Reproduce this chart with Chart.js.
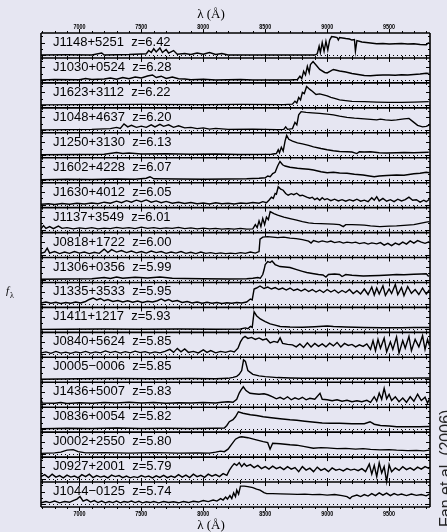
<!DOCTYPE html>
<html><head><meta charset="utf-8">
<style>html,body{margin:0;padding:0;background:#e6e6f2;}canvas{display:block;background:#e6e6f2;}</style>
<script src="https://cdn.jsdelivr.net/npm/chart.js@4.4.1/dist/chart.umd.min.js"></script>
</head><body>
<canvas id="c" width="447" height="532"></canvas>
<script>
const quasars = ["J1148+5251","J1030+0524","J1623+3112","J1048+4637","J1250+3130","J1602+4228","J1630+4012","J1137+3549","J0818+1722","J1306+0356","J1335+3533","J1411+1217","J0840+5624","J0005\u22120006","J1436+5007","J0836+0054","J0002+2550","J0927+2001","J1044\u22120125"];
const redshifts = ["6.42","6.28","6.22","6.20","6.13","6.07","6.05","6.01","6.00","5.99","5.95","5.93","5.85","5.85","5.83","5.82","5.80","5.79","5.74"];
const xTicks = [7000,7500,8000,8500,9000,9500];
const xMin = 6690, xMax = 9830;

// [wavelength (Å), relative flux in panel units]
const J1148 = [[6690,0],[6900,0.01],[7100,0],[7180,0.08],[7200,0],[7400,0.02],[7540,0.05],[7560,0.18],[7580,0.1],[7600,0.25],[7620,0.12],[7650,0.28],[7670,0.1],[7700,0.22],[7720,0.08],[7760,0.18],[7790,0.03],[7850,0.06],[7900,0.02],[7950,0.08],[8000,0.03],[8050,0.1],[8100,0.02],[8150,0.06],[8200,0],[8500,0],[8900,0],[8920,0.05],[8935,0.35],[8945,0.1],[8960,0.5],[8975,0.15],[8990,0.55],[9005,0.2],[9020,0.6],[9036,0.74],[9060,0.72],[9080,0.7],[9090,0.6],[9100,0.7],[9150,0.66],[9180,0.64],[9200,0.6],[9220,0.62],[9228,0.15],[9240,0.58],[9280,0.52],[9350,0.48],[9400,0.45],[9450,0.46],[9500,0.44],[9550,0.45],[9600,0.46],[9650,0.44],[9700,0.45],[9750,0.42],[9800,0.41],[9820,0.5]];
const J1030 = [[6690,0],[6800,0.02],[7000,0.01],[7050,0.06],[7100,0.02],[7200,0.04],[7250,0.08],[7300,0.03],[7350,0.1],[7400,0.05],[7450,0.12],[7500,0.08],[7550,0.16],[7590,0.2],[7620,0.1],[7660,0.15],[7700,0.06],[7750,0.12],[7800,0.05],[7850,0.04],[7900,0.01],[8000,0.03],[8100,0],[8300,0.02],[8400,0],[8700,0],[8760,0.02],[8780,0.15],[8795,0.05],[8810,0.35],[8825,0.2],[8840,0.55],[8855,0.3],[8865,0.62],[8886,0.74],[8910,0.6],[8940,0.42],[8980,0.3],[9000,0.28],[9050,0.42],[9100,0.36],[9150,0.32],[9200,0.26],[9250,0.22],[9300,0.18],[9350,0.17],[9400,0.19],[9450,0.2],[9500,0.2],[9550,0.19],[9600,0.21],[9650,0.2],[9700,0.22],[9750,0.24],[9800,0.27],[9820,0.26]];
const J1623 = [[6690,0],[7000,0.01],[7500,0.02],[8000,0.01],[8300,0.02],[8650,0.01],[8720,0.03],[8740,0.15],[8755,0.08],[8770,0.3],[8785,0.2],[8800,0.5],[8815,0.45],[8834,0.74],[8860,0.62],[8880,0.55],[8910,0.42],[8940,0.44],[8970,0.4],[9000,0.36],[9030,0.3],[9060,0.26],[9100,0.2],[9150,0.17],[9200,0.14],[9300,0.13],[9400,0.11],[9500,0.1],[9600,0.1],[9700,0.11],[9820,0.13]];
const J1048 = [[6690,0],[6900,0.01],[7100,0.02],[7250,0.05],[7300,0.1],[7330,0.06],[7360,0.24],[7390,0.12],[7420,0.18],[7460,0.1],[7500,0.15],[7540,0.1],[7580,0.2],[7610,0.12],[7650,0.22],[7680,0.14],[7720,0.2],[7760,0.1],[7800,0.16],[7850,0.08],[7900,0.1],[7950,0.05],[8000,0.08],[8050,0.03],[8100,0.06],[8200,0.02],[8400,0.03],[8600,0.01],[8650,0.02],[8665,0.12],[8680,0.02],[8720,0.05],[8740,0.3],[8755,0.2],[8770,0.6],[8790,0.73],[8830,0.7],[8880,0.68],[8940,0.66],[9000,0.63],[9050,0.6],[9100,0.55],[9160,0.5],[9220,0.47],[9300,0.44],[9350,0.42],[9400,0.4],[9430,0.43],[9470,0.4],[9520,0.38],[9560,0.4],[9620,0.44],[9660,0.46],[9700,0.3],[9730,0.18],[9770,0.12],[9800,0.14],[9825,0.2]];
const J1250 = [[6690,0],[7000,0.01],[7200,0.02],[7260,0.06],[7300,0.09],[7350,0.05],[7400,0.07],[7500,0.03],[7700,0.04],[7900,0.02],[8100,0.03],[8300,0.01],[8550,0.02],[8590,0.05],[8605,0.2],[8615,0.08],[8630,0.3],[8645,0.15],[8660,0.55],[8673,0.78],[8690,0.62],[8720,0.55],[8760,0.48],[8800,0.44],[8850,0.38],[8890,0.32],[8950,0.25],[9000,0.2],[9050,0.16],[9100,0.13],[9160,0.12],[9200,0.11],[9240,0.05],[9260,0.12],[9300,0.11],[9350,0.12],[9420,0.08],[9480,0.07],[9560,0.08],[9620,0.09],[9700,0.08],[9760,0.09],[9820,0.1]];
const J1602 = [[6690,0],[6900,0.02],[7100,0.01],[7300,0.03],[7450,0.02],[7540,0.06],[7570,0.12],[7600,0.04],[7800,0.03],[8000,0.02],[8200,0.03],[8350,0.04],[8450,0.06],[8500,0.08],[8520,0.15],[8540,0.12],[8560,0.25],[8580,0.3],[8600,0.55],[8619,0.73],[8640,0.6],[8660,0.55],[8700,0.5],[8760,0.46],[8800,0.44],[8850,0.42],[8890,0.39],[8950,0.32],[9000,0.28],[9050,0.3],[9100,0.27],[9160,0.26],[9220,0.22],[9290,0.19],[9340,0.15],[9380,0.12],[9420,0.15],[9480,0.17],[9560,0.19],[9620,0.18],[9700,0.24],[9750,0.26],[9800,0.3],[9825,0.28]];
const J1630 = [[6690,0.02],[6750,0.04],[6800,0.01],[6860,0.05],[6920,0.02],[6980,0.06],[7040,0.03],[7100,0.07],[7150,0.04],[7200,0.1],[7250,0.06],[7300,0.14],[7340,0.08],[7380,0.16],[7420,0.1],[7460,0.18],[7500,0.12],[7540,0.19],[7580,0.1],[7620,0.15],[7660,0.08],[7700,0.13],[7750,0.06],[7800,0.1],[7850,0.05],[7900,0.09],[7950,0.04],[8000,0.07],[8050,0.03],[8100,0.08],[8150,0.04],[8200,0.06],[8250,0.03],[8300,0.07],[8350,0.05],[8400,0.09],[8450,0.06],[8480,0.12],[8510,0.08],[8530,0.18],[8550,0.3],[8565,0.25],[8580,0.45],[8590,0.42],[8605,0.72],[8625,0.62],[8645,0.58],[8665,0.45],[8685,0.38],[8710,0.44],[8730,0.4],[8754,0.46],[8780,0.36],[8800,0.38],[8835,0.3],[8860,0.26],[8880,0.3],[8900,0.2],[8920,0.26],[8940,0.18],[8960,0.28],[8980,0.2],[9000,0.24],[9030,0.16],[9060,0.22],[9090,0.15],[9120,0.2],[9150,0.14],[9180,0.2],[9210,0.15],[9240,0.22],[9270,0.14],[9300,0.18],[9330,0.12],[9360,0.28],[9380,0.18],[9400,0.32],[9420,0.15],[9450,0.25],[9480,0.14],[9510,0.2],[9540,0.12],[9570,0.22],[9600,0.15],[9630,0.2],[9660,0.3],[9690,0.18],[9720,0.2],[9750,0.1],[9780,0.18],[9800,0.12],[9825,0.22]];
const J1137 = [[6690,0.03],[6710,0.16],[6730,0.05],[6760,0.12],[6790,0.04],[6830,0.14],[6860,0.05],[6900,0.08],[6950,0.03],[7000,0.07],[7050,0.04],[7100,0.08],[7150,0.03],[7200,0.06],[7250,0.04],[7300,0.09],[7350,0.05],[7400,0.08],[7450,0.04],[7500,0.1],[7550,0.05],[7600,0.08],[7650,0.04],[7700,0.07],[7750,0.05],[7800,0.09],[7850,0.04],[7900,0.07],[7950,0.03],[8000,0.06],[8050,0.03],[8100,0.05],[8150,0.02],[8200,0.04],[8250,0.02],[8300,0.05],[8350,0.02],[8400,0.03],[8420,0.2],[8435,0.08],[8450,0.35],[8465,0.12],[8480,0.45],[8495,0.2],[8510,0.5],[8525,0.4],[8540,0.72],[8570,0.64],[8600,0.58],[8650,0.5],[8700,0.44],[8754,0.38],[8800,0.32],[8850,0.27],[8890,0.25],[8950,0.24],[9000,0.23],[9050,0.22],[9100,0.2],[9130,0.12],[9150,0.2],[9200,0.2],[9260,0.19],[9300,0.18],[9350,0.15],[9426,0.12],[9500,0.14],[9560,0.15],[9620,0.17],[9700,0.2],[9760,0.26],[9800,0.3],[9825,0.32]];
const J0818 = [[6690,0.05],[6720,0.1],[6740,0.26],[6760,0.06],[6800,0.12],[6840,0.04],[6880,0.1],[6920,0.05],[6960,0.12],[7000,0.06],[7040,0.1],[7080,0.04],[7120,0.09],[7160,0.05],[7200,0.22],[7230,0.08],[7260,0.2],[7300,0.1],[7340,0.16],[7380,0.08],[7420,0.14],[7460,0.07],[7500,0.12],[7540,0.06],[7580,0.14],[7620,0.08],[7660,0.12],[7700,0.05],[7740,0.1],[7780,0.06],[7820,0.12],[7860,0.05],[7900,0.09],[7940,0.04],[7980,0.1],[8020,0.05],[8060,0.08],[8100,0.04],[8140,0.07],[8180,0.04],[8220,0.06],[8260,0.04],[8300,0.08],[8340,0.05],[8380,0.1],[8420,0.06],[8450,0.12],[8458,0.62],[8480,0.7],[8520,0.72],[8560,0.7],[8600,0.68],[8650,0.7],[8700,0.66],[8750,0.64],[8800,0.6],[8850,0.54],[8870,0.46],[8890,0.56],[8930,0.5],[8960,0.55],[9000,0.5],[9030,0.54],[9060,0.48],[9100,0.52],[9130,0.46],[9160,0.5],[9200,0.47],[9230,0.5],[9260,0.44],[9300,0.48],[9330,0.42],[9360,0.47],[9400,0.43],[9430,0.48],[9460,0.38],[9490,0.45],[9520,0.36],[9550,0.46],[9580,0.4],[9610,0.5],[9640,0.42],[9670,0.55],[9700,0.46],[9730,0.56],[9760,0.5],[9790,0.45],[9825,0.52]];
const J1306 = [[6690,0.01],[6900,0.02],[7100,0.03],[7200,0.08],[7250,0.04],[7300,0.1],[7350,0.05],[7450,0.09],[7550,0.06],[7650,0.1],[7750,0.05],[7850,0.04],[8000,0.03],[8200,0.02],[8350,0.03],[8400,0.05],[8440,0.08],[8460,0.05],[8480,0.2],[8490,0.38],[8500,0.6],[8520,0.72],[8540,0.68],[8555,0.74],[8580,0.6],[8619,0.52],[8660,0.5],[8700,0.48],[8754,0.4],[8800,0.33],[8835,0.28],[8880,0.24],[8930,0.2],[8966,0.18],[8990,0.1],[9010,0.2],[9060,0.22],[9100,0.2],[9120,0.12],[9150,0.2],[9200,0.17],[9292,0.14],[9350,0.15],[9420,0.16],[9500,0.18],[9560,0.2],[9620,0.19],[9700,0.21],[9760,0.22],[9800,0.23],[9820,0.12]];
const J1335 = [[6690,0.06],[6730,0.1],[6770,0.05],[6810,0.09],[6850,0.04],[6890,0.08],[6930,0.05],[6970,0.1],[7010,0.06],[7050,0.12],[7080,0.2],[7110,0.26],[7140,0.18],[7170,0.24],[7200,0.15],[7230,0.2],[7270,0.12],[7310,0.16],[7350,0.1],[7390,0.15],[7430,0.09],[7470,0.14],[7510,0.08],[7550,0.13],[7590,0.1],[7630,0.15],[7660,0.22],[7690,0.14],[7720,0.2],[7750,0.12],[7790,0.16],[7830,0.08],[7870,0.12],[7910,0.06],[7950,0.1],[7990,0.05],[8030,0.09],[8070,0.05],[8110,0.08],[8150,0.04],[8190,0.07],[8230,0.05],[8270,0.08],[8310,0.06],[8350,0.1],[8380,0.22],[8395,0.18],[8410,0.62],[8430,0.66],[8458,0.74],[8490,0.64],[8520,0.7],[8550,0.62],[8580,0.68],[8610,0.6],[8640,0.66],[8670,0.58],[8700,0.66],[8730,0.56],[8760,0.62],[8790,0.54],[8820,0.62],[8850,0.52],[8880,0.6],[8910,0.5],[8940,0.58],[8970,0.48],[9000,0.6],[9030,0.5],[9060,0.58],[9090,0.46],[9120,0.56],[9150,0.48],[9180,0.6],[9210,0.44],[9240,0.55],[9270,0.42],[9300,0.62],[9330,0.4],[9360,0.7],[9380,0.38],[9400,0.66],[9420,0.42],[9450,0.75],[9470,0.36],[9500,0.62],[9520,0.44],[9550,0.8],[9570,0.4],[9600,0.68],[9620,0.35],[9650,0.72],[9680,0.45],[9710,0.6],[9740,0.4],[9770,0.66],[9800,0.42],[9825,0.58]];
const J1411 = [[6690,0],[6900,0.01],[7200,0.02],[7500,0.01],[7800,0.02],[8100,0.01],[8300,0.02],[8340,0.06],[8360,0.03],[8380,0.12],[8395,0.08],[8410,0.71],[8430,0.55],[8460,0.42],[8500,0.31],[8540,0.22],[8580,0.17],[8620,0.12],[8700,0.1],[8800,0.09],[8900,0.11],[9000,0.14],[9050,0.12],[9150,0.1],[9300,0.08],[9450,0.07],[9600,0.07],[9700,0.08],[9825,0.08]];
const J0840 = [[6690,0.06],[6730,0.1],[6770,0.04],[6810,0.12],[6850,0.05],[6890,0.09],[6930,0.04],[6970,0.1],[7010,0.06],[7050,0.12],[7090,0.05],[7130,0.1],[7170,0.06],[7210,0.14],[7250,0.07],[7290,0.12],[7330,0.05],[7370,0.11],[7410,0.06],[7450,0.13],[7490,0.07],[7530,0.11],[7570,0.05],[7610,0.1],[7650,0.06],[7690,0.12],[7730,0.2],[7760,0.08],[7790,0.24],[7820,0.1],[7850,0.22],[7880,0.08],[7920,0.12],[7960,0.06],[8000,0.18],[8030,0.08],[8060,0.15],[8100,0.06],[8140,0.12],[8180,0.08],[8220,0.14],[8250,0.1],[8280,0.25],[8300,0.5],[8320,0.66],[8337,0.72],[8360,0.64],[8390,0.68],[8420,0.6],[8450,0.66],[8480,0.58],[8510,0.62],[8540,0.46],[8570,0.52],[8600,0.48],[8620,0.66],[8640,0.44],[8680,0.4],[8720,0.38],[8750,0.3],[8780,0.42],[8810,0.28],[8840,0.46],[8870,0.3],[8900,0.44],[8930,0.32],[8960,0.42],[8990,0.3],[9020,0.45],[9050,0.34],[9080,0.48],[9110,0.3],[9140,0.44],[9170,0.36],[9200,0.4],[9230,0.3],[9260,0.38],[9290,0.32],[9320,0.42],[9350,0.2],[9370,0.55],[9390,0.15],[9410,0.6],[9430,0.25],[9460,0.65],[9480,0.1],[9510,0.5],[9530,0.2],[9560,0.7],[9580,0.05],[9610,0.55],[9630,0.25],[9660,0.72],[9680,0.15],[9710,0.6],[9740,0.3],[9770,0.75],[9790,0.2],[9810,0.6],[9825,0.35]];
const J0005 = [[6690,0],[7000,0.02],[7300,0.03],[7600,0.02],[7900,0.03],[8100,0.02],[8200,0.04],[8240,0.08],[8270,0.12],[8290,0.2],[8310,0.35],[8325,0.78],[8340,0.72],[8360,0.35],[8400,0.2],[8450,0.14],[8500,0.11],[8600,0.07],[8700,0.05],[8800,0.04],[9000,0.04],[9200,0.04],[9400,0.04],[9600,0.04],[9825,0.05]];
const J1436 = [[6690,0.2],[6700,0.05],[6800,0.04],[6850,0.07],[6900,0.03],[7000,0.06],[7100,0.04],[7200,0.07],[7300,0.05],[7400,0.08],[7500,0.05],[7600,0.07],[7700,0.04],[7800,0.06],[7900,0.05],[8000,0.07],[8100,0.05],[8150,0.08],[8200,0.1],[8240,0.08],[8270,0.2],[8290,0.45],[8305,0.58],[8323,0.7],[8345,0.55],[8377,0.44],[8410,0.42],[8450,0.4],[8490,0.42],[8520,0.38],[8560,0.3],[8590,0.22],[8620,0.28],[8650,0.2],[8680,0.3],[8710,0.18],[8740,0.26],[8770,0.2],[8800,0.28],[8830,0.18],[8860,0.24],[8900,0.2],[8942,0.44],[8960,0.2],[9000,0.18],[9040,0.14],[9080,0.18],[9120,0.12],[9160,0.16],[9200,0.1],[9240,0.14],[9280,0.1],[9320,0.16],[9350,0.08],[9380,0.3],[9400,0.12],[9420,0.45],[9440,0.2],[9460,0.64],[9480,0.22],[9500,0.4],[9520,0.15],[9550,0.3],[9580,0.1],[9610,0.25],[9640,0.08],[9670,0.3],[9700,0.12],[9730,0.4],[9760,0.15],[9790,0.28],[9810,0.05],[9825,0.2]];
const J0836 = [[6690,0.02],[6900,0.04],[7100,0.03],[7300,0.05],[7500,0.03],[7700,0.04],[7900,0.03],[8100,0.04],[8170,0.05],[8190,0.15],[8210,0.3],[8240,0.38],[8260,0.5],[8283,0.7],[8320,0.64],[8380,0.58],[8430,0.55],[8484,0.5],[8550,0.46],[8620,0.42],[8700,0.38],[8754,0.36],[8820,0.32],[8900,0.28],[8960,0.25],[9023,0.24],[9100,0.24],[9200,0.22],[9300,0.22],[9346,0.3],[9380,0.2],[9430,0.15],[9500,0.13],[9561,0.1],[9650,0.1],[9750,0.1],[9825,0.11]];
const J0002 = [[6690,0.03],[6800,0.05],[6850,0.08],[6900,0.16],[6950,0.18],[6990,0.1],[7050,0.05],[7200,0.06],[7400,0.04],[7600,0.06],[7800,0.04],[7950,0.05],[8050,0.04],[8100,0.08],[8140,0.12],[8170,0.1],[8200,0.2],[8230,0.4],[8260,0.6],[8290,0.68],[8310,0.7],[8360,0.66],[8420,0.58],[8484,0.5],[8520,0.46],[8539,0.2],[8560,0.44],[8620,0.42],[8700,0.38],[8754,0.36],[8820,0.3],[8888,0.24],[8950,0.26],[9000,0.25],[9080,0.22],[9150,0.23],[9230,0.2],[9290,0.22],[9350,0.19],[9426,0.17],[9500,0.18],[9560,0.16],[9650,0.14],[9720,0.15],[9780,0.13],[9825,0.16]];
const J0927 = [[6690,0.1],[6720,0.18],[6750,0.06],[6780,0.2],[6810,0.08],[6840,0.14],[6870,0.05],[6900,0.16],[6930,0.08],[6960,0.12],[6990,0.05],[7020,0.18],[7050,0.1],[7080,0.2],[7110,0.06],[7140,0.14],[7170,0.08],[7200,0.12],[7230,0.05],[7260,0.16],[7290,0.1],[7320,0.14],[7350,0.06],[7380,0.12],[7410,0.05],[7440,0.1],[7470,0.06],[7500,0.14],[7530,0.08],[7560,0.12],[7590,0.05],[7620,0.13],[7650,0.07],[7680,0.15],[7710,0.06],[7740,0.12],[7770,0.07],[7800,0.18],[7830,0.08],[7860,0.16],[7890,0.06],[7920,0.2],[7950,0.1],[7980,0.15],[8010,0.07],[8040,0.2],[8070,0.12],[8100,0.18],[8130,0.1],[8160,0.22],[8190,0.15],[8210,0.35],[8230,0.5],[8250,0.62],[8270,0.55],[8290,0.66],[8310,0.5],[8330,0.62],[8350,0.52],[8380,0.58],[8410,0.46],[8440,0.55],[8470,0.42],[8500,0.5],[8530,0.4],[8560,0.52],[8590,0.42],[8620,0.48],[8650,0.38],[8680,0.5],[8710,0.4],[8740,0.46],[8770,0.3],[8800,0.5],[8830,0.36],[8860,0.44],[8890,0.3],[8920,0.48],[8950,0.35],[8980,0.42],[9010,0.3],[9040,0.45],[9070,0.36],[9100,0.4],[9130,0.33],[9160,0.42],[9190,0.36],[9220,0.4],[9250,0.34],[9280,0.42],[9310,0.3],[9340,0.6],[9360,0.2],[9380,0.55],[9400,0.1],[9420,0.65],[9440,0.25],[9460,0.5],[9480,-0.1],[9500,0.58],[9520,0.3],[9550,0.45],[9580,0.35],[9610,0.5],[9640,0.38],[9670,0.45],[9700,0.36],[9730,0.48],[9760,0.4],[9790,0.5],[9825,0.42]];
const J1044 = [[6690,0.05],[6730,0.1],[6760,0.06],[6800,0.12],[6840,0.05],[6880,0.1],[6920,0.07],[6950,0.14],[6980,0.2],[7005,0.3],[7030,0.12],[7060,0.18],[7090,0.08],[7120,0.14],[7150,0.06],[7180,0.12],[7210,0.05],[7240,0.1],[7270,0.06],[7300,0.12],[7330,0.05],[7360,0.1],[7390,0.07],[7420,0.12],[7450,0.06],[7480,0.11],[7510,0.05],[7540,0.09],[7570,0.06],[7600,0.1],[7640,0.05],[7680,0.1],[7720,0.06],[7760,0.09],[7800,0.05],[7840,0.1],[7880,0.06],[7920,0.11],[7960,0.08],[8000,0.14],[8040,0.1],[8080,0.16],[8110,0.12],[8140,0.22],[8160,0.16],[8180,0.28],[8195,0.2],[8215,0.34],[8230,0.22],[8245,0.45],[8260,0.3],[8270,0.56],[8285,0.4],[8300,0.72],[8330,0.72],[8360,0.7],[8400,0.66],[8430,0.6],[8458,0.56],[8490,0.46],[8512,0.42],[8560,0.42],[8620,0.41],[8700,0.4],[8760,0.39],[8820,0.4],[8880,0.38],[8940,0.39],[9000,0.36],[9060,0.38],[9120,0.34],[9160,0.3],[9184,0.22],[9200,0.3],[9240,0.36],[9270,0.3],[9300,0.38],[9330,0.32],[9360,0.42],[9390,0.34],[9420,0.45],[9450,0.36],[9480,0.44],[9510,0.34],[9540,0.42],[9570,0.36],[9600,0.4],[9640,0.34],[9680,0.4],[9720,0.35],[9760,0.38],[9800,0.33],[9825,0.4]];

const spectra = [J1148,J1030,J1623,J1048,J1250,J1602,J1630,J1137,J0818,J1306,J1335,J1411,J0840,J0005,J1436,J0836,J0002,J0927,J1044];
const N = spectra.length;
const ZERO = 0.118;
const SANS = '"Liberation Sans", Arial, Helvetica, sans-serif';
const SERIF = '"Liberation Serif", "DejaVu Serif", serif';

const panelPlugin = {
  id: 'panels',
  beforeDatasetsDraw(chart) {
    const {ctx, chartArea: a, scales: {x, y}} = chart;
    ctx.save();
    ctx.strokeStyle = '#000';
    ctx.lineWidth = 1;
    ctx.setLineDash([1, 3]);
    for (let i = 0; i < N; i++) {
      const yz = Math.round(y.getPixelForValue(N - 1 - i + ZERO)) + 0.5;
      ctx.beginPath(); ctx.moveTo(a.left, yz); ctx.lineTo(a.right, yz); ctx.stroke();
    }
    ctx.setLineDash([]);
    ctx.lineWidth = 1;
    for (let k = 0; k <= N; k++) {
      const yb = y.getPixelForValue(k);
      for (let w = 6700; w <= 9800; w += 100) {
        const px = Math.round(x.getPixelForValue(w)) + 0.5;
        const len = (w % 500 === 0) ? 4 : 2;
        ctx.beginPath();
        if (k < N) { ctx.moveTo(px, yb); ctx.lineTo(px, yb + len); }
        if (k > 0) { ctx.moveTo(px, yb); ctx.lineTo(px, yb - len); }
        ctx.stroke();
      }
    }
    for (let i = 0; i < N; i++) {
      const base = N - 1 - i + ZERO;
      for (let f = 0; f <= 0.76; f += 0.25) {
        const py = Math.round(y.getPixelForValue(base + f)) + 0.5;
        const len = (f === 0 || Math.abs(f - 0.5) < 0.01) ? 4 : 2;
        ctx.beginPath();
        ctx.moveTo(a.left, py); ctx.lineTo(a.left + len, py);
        ctx.moveTo(a.right, py); ctx.lineTo(a.right - len, py);
        ctx.stroke();
      }
    }
    ctx.restore();
  },
  afterDatasetsDraw(chart) {
    const {ctx, chartArea: a, scales: {x, y}} = chart;
    ctx.save();
    ctx.strokeStyle = '#000';
    ctx.lineWidth = 1.6;
    for (let k = 0; k <= N; k++) {
      const yb = y.getPixelForValue(k);
      ctx.beginPath(); ctx.moveTo(a.left, yb); ctx.lineTo(a.right, yb); ctx.stroke();
    }
    ctx.beginPath(); ctx.moveTo(a.left, a.top); ctx.lineTo(a.left, a.bottom);
    ctx.moveTo(a.right, a.top); ctx.lineTo(a.right, a.bottom); ctx.stroke();
    ctx.fillStyle = '#000';
    ctx.font = '13px ' + SANS;
    ctx.textAlign = 'left'; ctx.textBaseline = 'alphabetic';
    for (let i = 0; i < N; i++) {
      const top = y.getPixelForValue(N - i);
      ctx.fillText(quasars[i] + '  z=' + redshifts[i], x.getPixelForValue(6787), top + 13);
    }
    ctx.font = 'bold 7px ' + SANS;
    ctx.textAlign = 'center';
    xTicks.forEach(t => {
      const px = x.getPixelForValue(t);
      ctx.fillText(String(t), px, a.top - 4.5, 12);
      ctx.fillText(String(t), px, a.bottom + 9, 12);
    });
    ctx.font = '13px ' + SERIF;
    const cx = x.getPixelForValue(8062);
    ctx.fillText('\u03BB (\u00C5)', cx, 18);
    ctx.fillText('\u03BB (\u00C5)', cx, 529);
    ctx.textAlign = 'left';
    ctx.font = 'italic 11px ' + SERIF;
    ctx.fillText('f', 6, 294);
    ctx.font = '8px ' + SERIF;
    ctx.fillText('\u03BB', 10, 298);
    ctx.save();
    ctx.translate(451, 527);
    ctx.rotate(-Math.PI / 2);
    ctx.font = '16px ' + SANS;
    ctx.fillStyle = '#222';
    ctx.fillText('Fan et al. (2006)', 0, 0);
    ctx.restore();
    ctx.restore();
  }
};

new Chart(document.getElementById('c').getContext('2d'), {
  type: 'line',
  data: {
    datasets: spectra.map((s, i) => ({
      label: quasars[i],
      data: s.map(p => ({x: p[0], y: N - 1 - i + ZERO + p[1]})),
      borderColor: '#000',
      borderWidth: 1.4,
      pointRadius: 0,
      tension: 0,
      fill: false
    }))
  },
  options: {
    responsive: false,
    animation: false,
    devicePixelRatio: 1,
    layout: {padding: {left: 41, top: 33, right: 17, bottom: 25}},
    plugins: {legend: {display: false}, tooltip: {enabled: false}},
    scales: {
      x: {type: 'linear', min: xMin, max: xMax, display: false},
      y: {type: 'linear', min: 0, max: N, display: false}
    }
  },
  plugins: [panelPlugin]
});
</script>
</body></html>
